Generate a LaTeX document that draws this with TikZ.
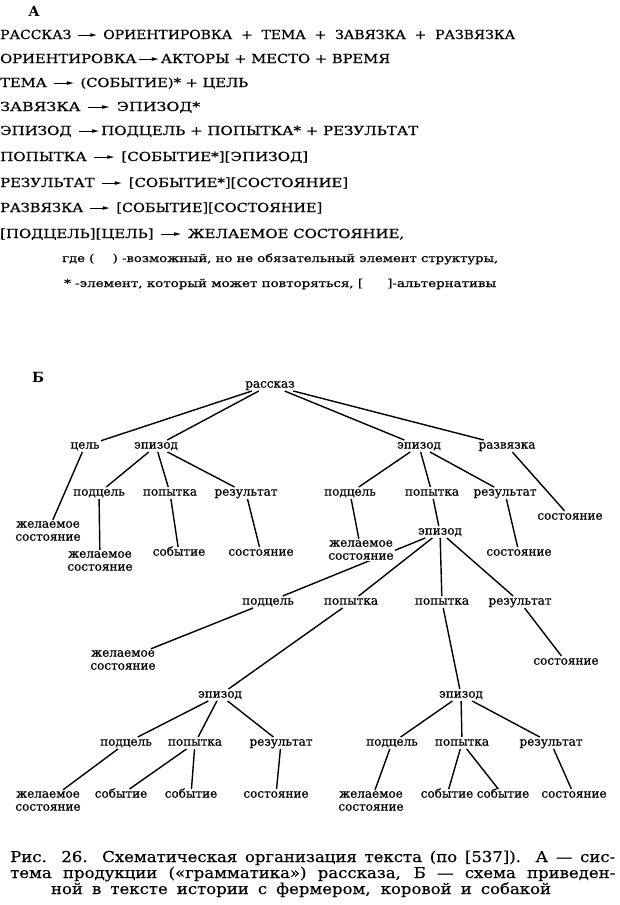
\documentclass[tikz,border=0pt]{standalone}
\usepackage{fontspec}
\usepackage{graphicx}
\setmainfont{DejaVu Serif}
\newfontfamily\symfont{DejaVu Sans}
\newfontfamily\heavyfont[FakeBold=0.6]{DejaVu Serif}
\newfontfamily\capfont[FakeStretch=1.1,FakeBold=0.4]{DejaVu Serif}
\usetikzlibrary{backgrounds}
\newlength\fitl
\newcommand\fitw[2]{\settowidth\fitl{#2}\pgfmathsetmacro\fitr{#1/\fitl}\scalebox{\fitr}[1]{#2}}
\newcommand\rarr{\kern0.15em\rule[0.28em]{1.1em}{0.8pt}\kern-0.2em\raisebox{1.3pt}{\symfont\fontsize{7.5}{7.5}\selectfont ►}\kern0.15em}
\tikzset{
 lab/.style={font=\heavyfont\fontsize{12}{13}\selectfont, inner sep=1.2pt, text height=0.72em, text depth=0.2em},
 lab2/.style={font=\heavyfont\fontsize{12}{13}\selectfont, inner sep=1.2pt, align=center},
 edge/.style={line width=1.4pt},
 aline/.style={anchor=base west, inner sep=0pt, font=\heavyfont\fontsize{12.5}{14}\selectfont},
 legline/.style={anchor=base west, inner sep=0pt, font=\heavyfont\fontsize{11}{12}\selectfont},
 capline/.style={anchor=base west, inner sep=0pt, font=\capfont\fontsize{15}{16}\selectfont},
 capmid/.style={anchor=base, inner sep=0pt, font=\capfont\fontsize{15}{16}\selectfont},
 ttl/.style={anchor=base, inner sep=0pt, font=\fontsize{14}{16}\selectfont\bfseries}
}
\begin{document}
\begin{tikzpicture}[x=1pt,y=-1pt]
\useasboundingbox (0,0) rectangle (620,905);
% ---- A ----
\node[ttl] (tA) at (34,16) {А};
\node[aline] (a1) at (0,39) {\fitw{515}{РАССКАЗ \rarr\ ОРИЕНТИРОВКА \ + \ ТЕМА \ + \ ЗАВЯЗКА \ + \ РАЗВЯЗКА}};
\node[aline] (a2) at (0,63) {\fitw{390}{ОРИЕНТИРОВКА\rarr АКТОРЫ + МЕСТО + ВРЕМЯ}};
\node[aline] (a3) at (0,87) {\fitw{248}{ТЕМА \rarr\ (СОБЫТИЕ)* + ЦЕЛЬ}};
\node[aline] (a4) at (0,111) {\fitw{200}{ЗАВЯЗКА \rarr\ ЭПИЗОД*}};
\node[aline] (a5) at (0,135) {\fitw{418}{ЭПИЗОД \rarr ПОДЦЕЛЬ + ПОПЫТКА* + РЕЗУЛЬТАТ}};
\node[aline] (a6) at (0,161) {\fitw{308}{ПОПЫТКА \rarr\ [СОБЫТИЕ*][ЭПИЗОД]}};
\node[aline] (a7) at (0,187) {\fitw{348}{РЕЗУЛЬТАТ \rarr\ [СОБЫТИЕ*][СОСТОЯНИЕ]}};
\node[aline] (a8) at (0,212) {\fitw{322}{РАЗВЯЗКА \rarr\ [СОБЫТИЕ][СОСТОЯНИЕ]}};
\node[aline] (a9) at (0,238) {\fitw{404}{[ПОДЦЕЛЬ][ЦЕЛЬ] \rarr\ ЖЕЛАЕМОЕ СОСТОЯНИЕ,}};
\node[legline] (l1) at (62,262) {\fitw{436}{где (\hspace{1.4em}) -возможный, но не обязательный элемент структуры,}};
\node[legline] (l2) at (64,287) {\fitw{432}{* -элемент, который может повторяться, [\hspace{1.8em}]-альтернативы}};
% ---- Б ----
\node[ttl] (tB) at (38,382) {Б};
\node[lab] (r) at (270,385) {рассказ};
\node[lab] (cel) at (85,446) {цель};
\node[lab] (epL) at (156,446) {эпизод};
\node[lab] (epR) at (419,446) {эпизод};
\node[lab] (razv) at (507,446) {развязка};
\node[lab] (podL) at (99,493) {подцель};
\node[lab] (popL) at (170,493) {попытка};
\node[lab] (resL) at (246,493) {результат};
\node[lab] (podR) at (350,493) {подцель};
\node[lab] (popR) at (432,493) {попытка};
\node[lab] (resR) at (505,493) {результат};
\node[lab] (sos0) at (570,517) {состояние};
\node[lab2] (zs1) at (48,531) {желаемое\\состояние};
\node[lab] (epM) at (440,532) {эпизод};
\node[lab2] (zs2) at (100,561) {желаемое\\состояние};
\node[lab] (sob1) at (179,553) {событие};
\node[lab] (sos1) at (261,553) {состояние};
\node[lab2,fill=white] (zs3) at (361,550) {желаемое\\состояние};
\node[lab] (sos2) at (519,553) {состояние};
\node[lab] (podM) at (268,602) {подцель};
\node[lab] (popM1) at (351,602) {попытка};
\node[lab] (popM2) at (442,602) {попытка};
\node[lab] (resM) at (520,602) {результат};
\node[lab2] (zs4) at (123,660) {желаемое\\состояние};
\node[lab] (sos3) at (566,662) {состояние};
\node[lab] (epLL) at (220,695) {эпизод};
\node[lab] (epLR) at (461,695) {эпизод};
\node[lab] (podLL) at (126,743) {подцель};
\node[lab] (popLL) at (195,743) {попытка};
\node[lab] (resLL) at (281,743) {результат};
\node[lab] (podLR) at (392,743) {подцель};
\node[lab] (popLR) at (462,743) {попытка};
\node[lab] (resLR) at (551,743) {результат};
\node[lab2] (zs5) at (48,801) {желаемое\\состояние};
\node[lab] (sob2) at (121,795) {событие};
\node[lab] (sob3) at (191,795) {событие};
\node[lab] (sos4) at (276,795) {состояние};
\node[lab2] (zs6) at (371,801) {желаемое\\состояние};
\node[lab] (sob4) at (447,795) {событие};
\node[lab] (sob5) at (503,795) {событие};
\node[lab] (sos5) at (574,795) {состояние};
% ---- caption ----
\node[capline] (c1) at (10,862) {\makebox[605pt][s]{Рис. 26. Схематическая организация текста (по [537]). А — сис-}};
\node[capline] (c2) at (10,878) {\makebox[605pt][s]{тема продукции («грамматика») рассказа, Б — схема приведен-}};
\node[capmid] (c3) at (301,894) {\makebox[500pt][s]{ной в тексте истории с фермером, коровой и собакой}};
% ---- connectors ----
\begin{pgfonlayer}{background}
\fill[white] (0,0) rectangle (620,905);
\draw[edge] (r) -- (cel);
\draw[edge] (r) -- (epL);
\draw[edge] (r) -- (epR);
\draw[edge] (r) -- (razv);
\draw[edge] (cel) -- (zs1);
\draw[edge] (epL) -- (podL);
\draw[edge] (epL) -- (popL);
\draw[edge] (epL) -- (resL);
\draw[edge] (podL) -- (zs2);
\draw[edge] (popL) -- (sob1);
\draw[edge] (resL) -- (sos1);
\draw[edge] (epR) -- (podR);
\draw[edge] (epR) -- (popR);
\draw[edge] (epR) -- (resR);
\draw[edge] (podR) -- (zs3);
\draw[edge] (popR) -- (epM);
\draw[edge] (resR) -- (sos2);
\draw[edge] (razv) -- (sos0);
\draw[edge] (epM) -- (podM);
\draw[edge] (epM) -- (popM1);
\draw[edge] (epM) -- (popM2);
\draw[edge] (epM) -- (resM);
\draw[edge] (podM) -- (zs4);
\draw[edge] (resM) -- (sos3);
\draw[edge] (popM1) -- (epLL);
\draw[edge] (popM2) -- (epLR);
\draw[edge] (epLL) -- (podLL);
\draw[edge] (epLL) -- (popLL);
\draw[edge] (epLL) -- (resLL);
\draw[edge] (podLL) -- (zs5);
\draw[edge] (popLL) -- (sob2);
\draw[edge] (popLL) -- (sob3);
\draw[edge] (resLL) -- (sos4);
\draw[edge] (epLR) -- (podLR);
\draw[edge] (epLR) -- (popLR);
\draw[edge] (epLR) -- (resLR);
\draw[edge] (podLR) -- (zs6);
\draw[edge] (popLR) -- (sob4);
\draw[edge] (popLR) -- (sob5);
\draw[edge] (resLR) -- (sos5);
\end{pgfonlayer}
\end{tikzpicture}
\end{document}
